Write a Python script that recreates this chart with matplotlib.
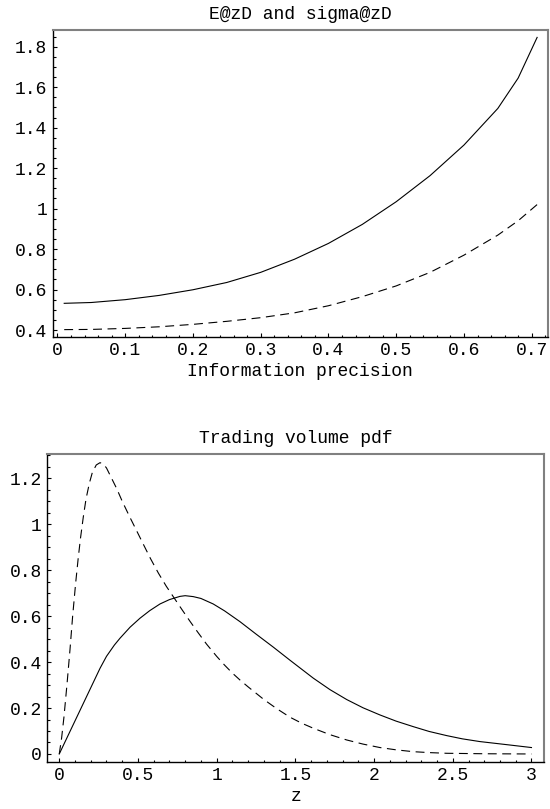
import matplotlib
matplotlib.use("Agg")
import matplotlib.pyplot as plt
from matplotlib.ticker import FixedLocator, FixedFormatter, MultipleLocator

plt.rcParams['font.family'] = ['Liberation Mono', 'DejaVu Sans Mono']

# ---- Top panel data: E[z] (solid) and sigma[z] (dashed) vs information precision
prec = [0.01, 0.05, 0.10, 0.15, 0.20, 0.25, 0.30, 0.35, 0.40, 0.45, 0.50,
        0.55, 0.60, 0.65, 0.68, 0.708]
e_z = [0.532, 0.536, 0.550, 0.571, 0.599, 0.635, 0.685, 0.750, 0.828, 0.922,
       1.034, 1.163, 1.314, 1.495, 1.645, 1.846]
sigma_z = [0.402, 0.403, 0.408, 0.416, 0.428, 0.443, 0.461, 0.485, 0.520,
           0.565, 0.618, 0.685, 0.770, 0.869, 0.940, 1.020]

top_xticks = [0, 0.1, 0.2, 0.3, 0.4, 0.5, 0.6, 0.7]
top_xlabels = ["0", "0.1", "0.2", "0.3", "0.4", "0.5", "0.6", "0.7"]
top_yticks = [0.4, 0.6, 0.8, 1.0, 1.2, 1.4, 1.6, 1.8]
top_ylabels = ["0.4", "0.6", "0.8", "1", "1.2", "1.4", "1.6", "1.8"]

# ---- Bottom panel data: trading volume pdf
z_solid = [0, 0.259, 0.30, 0.35, 0.386, 0.45, 0.513, 0.575, 0.640, 0.70,
           0.767, 0.80, 0.851, 0.90, 0.978, 1.05, 1.148, 1.25, 1.36, 1.466,
           1.614, 1.72, 1.826, 1.93, 2.037, 2.14, 2.249, 2.35, 2.461, 2.56,
           2.672, 2.85, 3.0]
pdf_solid = [0, 0.373, 0.425, 0.474, 0.504, 0.552, 0.591, 0.624, 0.653, 0.672,
             0.686, 0.689, 0.685, 0.677, 0.653, 0.623, 0.576, 0.522, 0.465,
             0.408, 0.330, 0.280, 0.237, 0.201, 0.170, 0.143, 0.119, 0.098,
             0.080, 0.066, 0.054, 0.040, 0.028]

z_dash = [0, 0.015, 0.03, 0.05, 0.068, 0.085, 0.104, 0.12, 0.135, 0.153,
          0.17, 0.191, 0.21, 0.235, 0.259, 0.28, 0.30, 0.365, 0.40, 0.449,
          0.50, 0.534, 0.58, 0.63, 0.68, 0.724, 0.78, 0.83, 0.88, 0.936,
          1.0, 1.05, 1.1, 1.148, 1.2, 1.3, 1.38, 1.466, 1.54, 1.614, 1.72,
          1.826, 1.93, 2.037, 2.14, 2.249, 2.35, 2.461, 2.7, 3.0]
pdf_dash = [0, 0.07, 0.162, 0.31, 0.453, 0.60, 0.743, 0.85, 0.94, 1.033,
            1.11, 1.178, 1.225, 1.258, 1.268, 1.262, 1.245, 1.155, 1.10, 1.03,
            0.96, 0.913, 0.850, 0.787, 0.730, 0.685, 0.628, 0.578, 0.530,
            0.478, 0.425, 0.387, 0.352, 0.322, 0.292, 0.237, 0.198, 0.160,
            0.134, 0.112, 0.084, 0.061, 0.043, 0.028, 0.018, 0.010, 0.006,
            0.003, 0.001, 0.0]

bot_xticks = [0, 0.5, 1, 1.5, 2, 2.5, 3]
bot_xlabels = ["0", "0.5", "1", "1.5", "2", "2.5", "3"]
bot_yticks = [0, 0.2, 0.4, 0.6, 0.8, 1.0, 1.2]
bot_ylabels = ["0", "0.2", "0.4", "0.6", "0.8", "1", "1.2"]

FS = 13
LW = 0.8
DASH = (0, (8, 5))

fig = plt.figure(figsize=(5.5, 8.09), dpi=100)
ax1 = fig.add_axes([0.0958, 0.5838, 0.9005, 0.3791])
ax2 = fig.add_axes([0.0860, 0.0585, 0.9035, 0.3797])


def style(ax, xt, xl, yt, yl, xminor, yminor):
    for s in ("top", "right"):
        ax.spines[s].set_color("#808080")
        ax.spines[s].set_linewidth(1.5)
    for s in ("left", "bottom"):
        ax.spines[s].set_color("black")
        ax.spines[s].set_linewidth(1.0)
    ax.xaxis.set_major_locator(FixedLocator(xt))
    ax.xaxis.set_major_formatter(FixedFormatter(xl))
    ax.yaxis.set_major_locator(FixedLocator(yt))
    ax.yaxis.set_major_formatter(FixedFormatter(yl))
    ax.xaxis.set_minor_locator(MultipleLocator(xminor))
    ax.yaxis.set_minor_locator(MultipleLocator(yminor))
    ax.tick_params(which="both", direction="in", top=False, right=False,
                   labelsize=FS, width=0.8, color="black")
    ax.tick_params(which="major", length=3.2)
    ax.tick_params(which="minor", length=1.8)
    ax.tick_params(axis="x", which="major", pad=4)
    ax.tick_params(axis="y", which="major", pad=4)


ax1.plot(prec, e_z, color="black", lw=LW)
ax1.plot(prec, sigma_z, color="black", lw=LW, ls=DASH)
ax1.set_xlim(-0.007, 0.724)
ax1.set_ylim(0.367, 1.8825)
style(ax1, top_xticks, top_xlabels, top_yticks, top_ylabels, 0.02, 0.05)
ax1.set_title("E@zD and sigma@zD", fontsize=FS, pad=8)
ax1.set_xlabel("Information precision", fontsize=FS, labelpad=3)

ax2.plot(z_solid, pdf_solid, color="black", lw=LW)
ax2.plot(z_dash, pdf_dash, color="black", lw=LW, ls=DASH)
ax2.set_xlim(-0.076, 3.081)
ax2.set_ylim(-0.0335, 1.3036)
style(ax2, bot_xticks, bot_xlabels, bot_yticks, bot_ylabels, 0.1, 0.05)
ax2.set_title("Trading volume pdf", fontsize=FS, pad=8)
ax2.set_xlabel("z", fontsize=FS, labelpad=3)

fig.savefig("out.png", dpi=100)
